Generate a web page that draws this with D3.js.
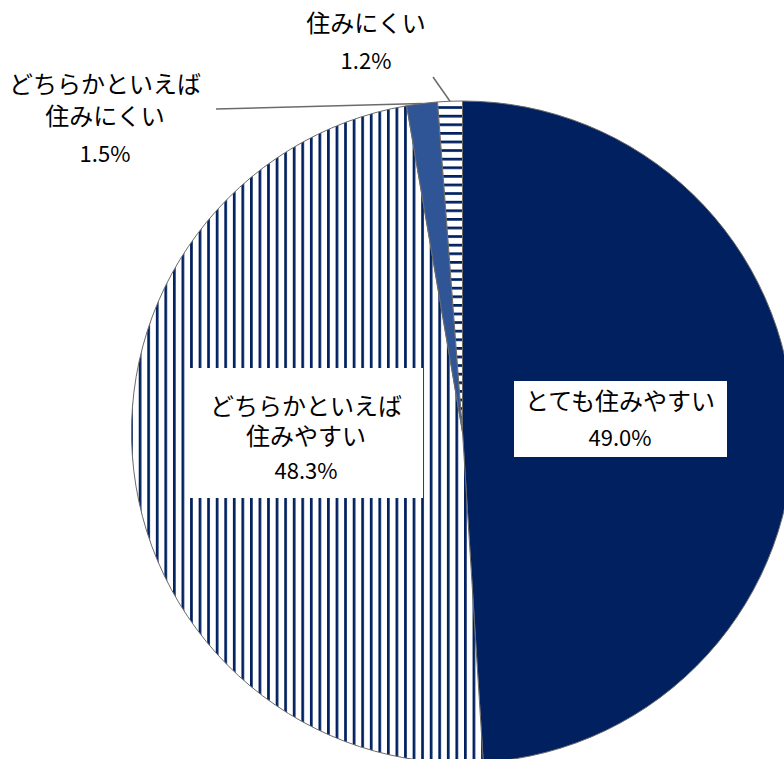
<!DOCTYPE html>
<html><head><meta charset="utf-8">
<script src="https://cdn.jsdelivr.net/npm/d3@7"></script>
<style>html,body{margin:0;padding:0;background:#fff;overflow:hidden}</style>
</head><body>
<svg id="c" width="784" height="759"></svg>
<script>
const categories = ["とても住みやすい", "どちらかといえば住みやすい", "どちらかといえば住みにくい", "住みにくい"];
const values = [49.0, 48.3, 1.5, 1.2];
const labelLines = [["とても住みやすい"], ["どちらかといえば", "住みやすい"], ["どちらかといえば", "住みにくい"], ["住みにくい"]];
const valueLabels = ["49.0%", "48.3%", "1.5%", "1.2%"];

const svg = d3.select("#c");
const cx = 462.5, cy = 432, r = 331;
const defs = svg.append("defs");
defs.append("pattern").attr("id", "vstripe").attr("patternUnits", "userSpaceOnUse")
  .attr("width", 8.56).attr("height", 10).attr("x", 1.5)
  .call(p => { p.append("rect").attr("width", 8.56).attr("height", 10).attr("fill", "#fff");
               p.append("rect").attr("x", 0).attr("width", 2.7).attr("height", 10).attr("fill", "#002060"); });
defs.append("pattern").attr("id", "hstripe").attr("patternUnits", "userSpaceOnUse")
  .attr("width", 10).attr("height", 8.6).attr("y", 1)
  .call(p => { p.append("rect").attr("width", 10).attr("height", 8.6).attr("fill", "#fff");
               p.append("rect").attr("y", 0).attr("width", 10).attr("height", 2.7).attr("fill", "#002060"); });

const fills = ["#002060", "url(#vstripe)", "#2F5597", "url(#hstripe)"];
const pie = d3.pie().sort(null).value(d => d)(values);
const arc = d3.arc().innerRadius(0).outerRadius(r);
const g = svg.append("g").attr("transform", `translate(${cx},${cy})`);
g.selectAll("path").data(pie).join("path")
  .attr("d", arc).attr("fill", (d, i) => fills[i])
  .attr("stroke", "#6b6b6b").attr("stroke-width", 1);

// leader lines
const outer = d3.arc().innerRadius(r).outerRadius(r);
const leaders = [[2, [216 - cx, 109 - cy]], [3, [433 - cx, 77 - cy]]];
leaders.forEach(([i, start]) => {
  const c = outer.centroid(pie[i]);
  g.append("line").attr("x1", start[0]).attr("y1", start[1]).attr("x2", c[0]).attr("y2", c[1])
    .attr("stroke", "#6b6b6b").attr("stroke-width", 1.5);
});

// label boxes
const boxes = [{x: 514, y: 381, w: 213, h: 76}, {x: 188, y: 368, w: 235, h: 130}, null, null];
boxes.forEach(b => { if (b) svg.append("rect").attr("x", b.x).attr("y", b.y).attr("width", b.w).attr("height", b.h).attr("fill", "#fff"); });

const labelPos = [
  {x: 620, lines: [410], val: 446},
  {x: 306, lines: [415, 445], val: 479},
  {x: 105, lines: [93, 125], val: 162},
  {x: 366, lines: [32], val: 69}
];
labelPos.forEach((p, i) => {
  labelLines[i].forEach((t, k) => {
    svg.append("text").attr("x", p.x).attr("y", p.lines[k]).attr("text-anchor", "middle")
      .attr("font-family", "'Noto Sans CJK JP', sans-serif").attr("font-size", 24).attr("fill", "#000").text(t);
  });
  svg.append("text").attr("x", p.x).attr("y", p.val).attr("text-anchor", "middle")
    .attr("font-family", "'Noto Sans CJK JP', sans-serif").attr("font-size", 22).attr("fill", "#000").text(valueLabels[i]);
});
</script>
</body></html>
